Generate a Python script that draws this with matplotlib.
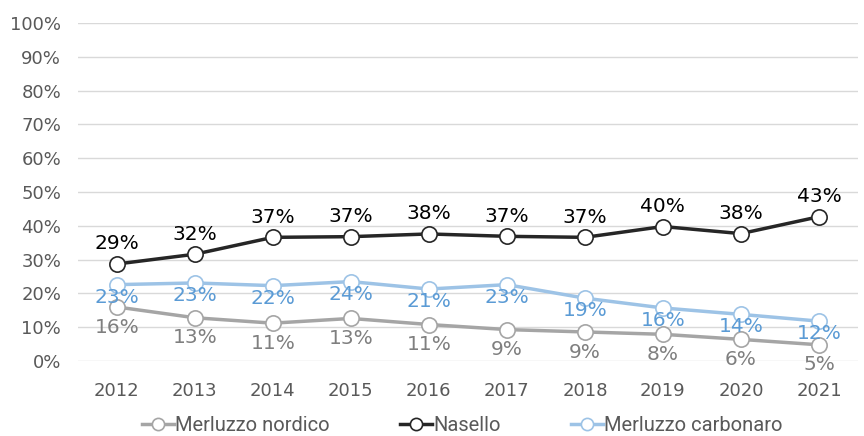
import matplotlib.pyplot as plt
import numpy as np

plt.rcParams['font.family'] = ['DejaVu Sans']

years = ['2012', '2013', '2014', '2015', '2016', '2017', '2018', '2019', '2020', '2021']
merluzzo_nordico = [16.0, 12.8, 11.2, 12.6, 10.8, 9.3, 8.6, 7.9, 6.4, 4.8]
nasello = [28.7, 31.6, 36.6, 36.8, 37.6, 36.9, 36.6, 39.8, 37.7, 42.7]
merluzzo_carbonaro = [22.6, 23.1, 22.3, 23.5, 21.3, 22.6, 18.6, 15.7, 13.8, 11.8]
nordico_labels = [16, 13, 11, 13, 11, 9, 9, 8, 6, 5]
nasello_labels = [29, 32, 37, 37, 38, 37, 37, 40, 38, 43]
carbonaro_labels = [23, 23, 22, 24, 21, 23, 19, 16, 14, 12]

fig = plt.figure(figsize=(8.64, 4.36), dpi=100)
ax = fig.add_axes([0.09, 0.172, 0.903, 0.775])

x = np.arange(len(years))
series = [
    ('Merluzzo nordico', merluzzo_nordico, nordico_labels, '#A5A5A5', '#7F7F7F', -14.5),
    ('Nasello', nasello, nasello_labels, '#262626', '#000000', 14.5),
    ('Merluzzo carbonaro', merluzzo_carbonaro, carbonaro_labels, '#9DC3E6', '#5B9BD5', -9),
]
for name, vals, labs, col, tcol, off in series:
    ax.plot(x, vals, color=col, lw=2.5, marker='o', ms=11, mfc='white',
            mec=col, mew=1.2, label=name, zorder=3)
    for xi, v, l in zip(x, vals, labs):
        ax.annotate(f'{l}%', (xi, v), xytext=(0, off), textcoords='offset points',
                    ha='center', va='center', fontsize=14.5, color=tcol, zorder=4)

ax.set_xlim(-0.5, 9.5)
ax.set_ylim(0, 100)
ax.set_yticks(range(0, 101, 10))
ax.set_yticklabels([f'{v}%' for v in range(0, 101, 10)])
ax.set_xticks(x)
ax.set_xticklabels(years)
ax.tick_params(axis='y', length=0, labelsize=13, labelcolor='#595959', pad=12)
ax.tick_params(axis='x', length=0, labelsize=13, labelcolor='#595959', pad=15)
ax.grid(axis='y', color='#D9D9D9', lw=1)
ax.set_axisbelow(True)
for s in ax.spines.values():
    s.set_visible(False)

leg = fig.legend(loc='lower center', bbox_to_anchor=(0.535, -0.02), ncol=3, frameon=False,
                 prop={'family': 'Roboto', 'size': 14.5}, handlelength=1.6,
                 handletextpad=0.05, columnspacing=3.5, labelcolor='#595959',
                 markerscale=0.8, borderpad=0.0)

fig.savefig('out.png', dpi=100)
